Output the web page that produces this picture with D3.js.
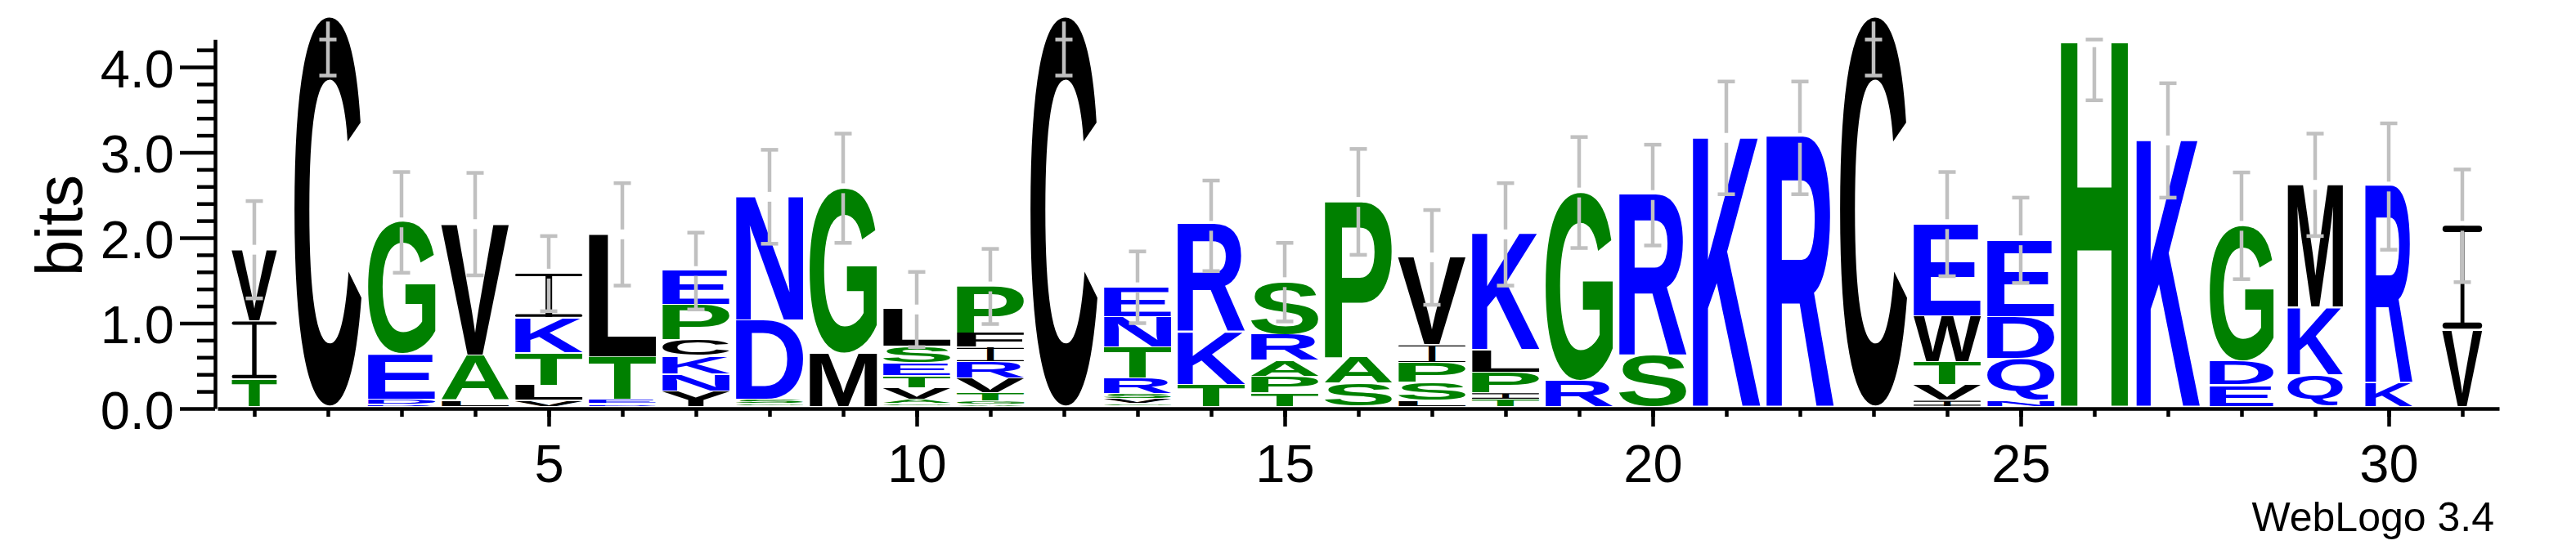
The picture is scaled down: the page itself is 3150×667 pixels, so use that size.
<!DOCTYPE html>
<html><head><meta charset="utf-8">
<script src="https://cdn.jsdelivr.net/npm/d3@7"></script>
<style>body{margin:0;background:#fff;}</style>
</head><body>
<svg id="logo" width="3150" height="667" xmlns="http://www.w3.org/2000/svg"></svg>
<script>
// ---------------- data ----------------
const positions = [1,2,3,4,5,6,7,8,9,10,11,12,13,14,15,16,17,18,19,20,21,22,23,24,25,26,27,28,29,30,31];
// letters of each stack, bottom to top
const stackLetters = ["TIV","C","RDEG","LAV","VLTKI","DETL","YNKCPE","GSDN","MG","GAVTESL","AGTVRIFP","C",
  "GVSRTNE","TKR","TPARS","SAP","LSPIV","TIPLK","RG","SR","K","R","C","IVTWE","NQDE","H","K","EDG","QKM","KR","VI"];
// height (bits) of each letter, same order
const stackBits = [
  [0.34,0.68,0.84],[4.59],[0.04,0.06,0.53,1.55],[0.09,0.53,1.54],[0.09,0.18,0.38,0.41,0.52],
  [0.05,0.05,0.50,1.44],[0.20,0.20,0.21,0.19,0.41,0.40],[0.05,0.05,0.93,1.45],[0.64,1.94],
  [0.05,0.05,0.14,0.14,0.15,0.19,0.44],[0.04,0.04,0.10,0.17,0.19,0.17,0.17,0.55],[4.59],
  [0.05,0.06,0.06,0.18,0.36,0.36,0.35],[0.27,0.62,1.25],[0.18,0.19,0.19,0.30,0.62],[0.29,0.31,1.82],
  [0.09,0.21,0.23,0.21,1.03],[0.10,0.08,0.24,0.26,1.36],[0.32,2.21],[0.62,1.88],[3.17],[3.17],[4.59],
  [0.09,0.18,0.27,0.54,1.08],[0.09,0.49,0.49,0.90],[4.29],[3.14],[0.27,0.28,1.59],[0.39,0.79,1.44],
  [0.30,2.30],[0.92,1.22]
];
// error bar half-length (bits)
const errorBits = [0.57,0.69,0.59,0.60,0.44,0.60,0.45,0.55,0.64,0.44,0.44,0.69,0.42,0.53,0.46,0.62,
  0.555,0.60,0.65,0.59,0.66,0.66,0.69,0.61,0.50,0.68,0.67,0.625,0.60,0.74,0.66];
// relative stack width (column occupancy)
const widthFrac = [0.67,1,1,1,1,1,1,1,1,1,1,1,1,1,1,1,1,1,1,1,1,1,1,1,1,1,0.94,0.95,0.82,0.70,0.59];
const yMax = 4.3219;
const yTicks = [0,1,2,3,4];
const yTickLabels = ["0.0","1.0","2.0","3.0","4.0"];
const yMinorTicks = [0.2,0.4,0.6,0.8,1.2,1.4,1.6,1.8,2.2,2.4,2.6,2.8,3.2,3.4,3.6,3.8,4.2];
const xTicks = [5,10,15,20,25,30];
const yLabel = "bits";
const footer = "WebLogo 3.4";
const colorGroups = {"#0000ff":"RKDENQ","#008000":"SGHTAP","#000000":"YVMCLFIW"};

// ---------------- drawing ----------------
const FONT = '"Liberation Sans", Arial, Helvetica, sans-serif';
const svg = d3.select('#logo');
const x = d3.scaleLinear().domain([0.5,31.5]).range([266,3056]);
const y = d3.scaleLinear().domain([0,yMax]).range([500,500-yMax*104.5]);
const color = ch => { for (const [c,s] of Object.entries(colorGroups)) if (s.includes(ch)) return c; return '#000'; };

const cv = document.createElement('canvas'); cv.width = 400; cv.height = 400;
const ctx = cv.getContext('2d');
const metrics = {};
function measure(ch){
  if (metrics[ch]) return metrics[ch];
  ctx.clearRect(0,0,400,400);
  ctx.fillStyle = '#000';
  ctx.font = `bold 200px ${FONT}`;
  ctx.fillText(ch, 100, 300);
  const d = ctx.getImageData(0,0,400,400).data;
  let x0=400,x1=-1,y0=400,y1=-1;
  for (let j=0;j<400;j++) for (let i=0;i<400;i++){
    if (d[(j*400+i)*4+3] > 127){ if(i<x0)x0=i; if(i>x1)x1=i; if(j<y0)y0=j; if(j>y1)y1=j; }
  }
  return metrics[ch] = {l:x0-100, t:y0-300, w:x1-x0+1, h:y1-y0+1};
}

const colW = (x(2)-x(1))*0.911;
const glyphs = [];
positions.forEach((p,i)=>{
  let cum = 0;
  stackLetters[i].split('').forEach((ch,k)=>{
    const b = stackBits[i][k];
    glyphs.push({p, ch, b0:cum, b1:cum+b, w:colW*widthFrac[i], first:k===0});
    cum += b;
  });
});

const gG = svg.append('g').attr('class','glyphs');
gG.selectAll('g.glyph').data(glyphs).join('g').attr('class','glyph').each(function(d){
  const top = y(d.b1);
  const bottom = y(d.b0) - (d.first ? 3.5 : 1.5);
  const bh = bottom - top;
  if (bh < 0.6) return;
  const bx = x(d.p) - d.w/2;
  const g = d3.select(this);
  const fill = color(d.ch);
  const place = (ch, X, Y, W, H) => {
    const m = measure(ch);
    g.append('text').text(ch)
      .attr('font-family', FONT).attr('font-weight','bold').attr('font-size',200)
      .attr('fill', fill)
      .attr('transform', `translate(${X},${Y}) scale(${W/m.w},${H/m.h}) translate(${-m.l},${-m.t})`);
  };
  if (d.ch === 'I') {
    const sw = Math.max(2, d.w*0.1);
    const th = Math.max(1.2, bh*0.06);
    place('I', x(d.p)-sw/2, top, sw, bh);
    [top, bottom-th].forEach(yy => g.append('rect').attr('x',bx).attr('y',yy)
      .attr('width',d.w).attr('height',th).attr('rx',th/2).attr('fill',fill));
  } else {
    place(d.ch, bx, top, d.w, bh);
  }
});

// error bars
const eG = svg.append('g').attr('class','errorbars').attr('stroke','#c0c0c0').attr('stroke-width',4.5).attr('fill','none');
positions.forEach((p,i)=>{
  const h = d3.sum(stackBits[i]);
  const e = errorBits[i];
  const yt = y(h), yu = y(Math.min(h+e, yMax)), yl = y(h-e);
  const cx = x(p), gap = 6;
  eG.append('line').attr('x1',cx).attr('x2',cx).attr('y1',yt+gap).attr('y2',yl);
  if (yu < yt-gap) eG.append('line').attr('x1',cx).attr('x2',cx).attr('y1',yt-gap).attr('y2',yu);
  [yu,yl].forEach(yy => eG.append('line').attr('x1',cx-10.5).attr('x2',cx+10.5).attr('y1',yy).attr('y2',yy));
});

// axes
function styleAxis(g){
  g.selectAll('.domain').attr('stroke','#000').attr('stroke-width',4.5);
  g.selectAll('.tick line').attr('stroke','#000').attr('stroke-width',4.5);
  g.selectAll('text').attr('font-family',FONT).attr('font-size',65).attr('fill','#000');
}
const yMinor = svg.append('g').attr('transform','translate(263,0)')
  .call(d3.axisLeft(y).tickValues(yMinorTicks).tickFormat('').tickSize(22).tickSizeOuter(0));
yMinor.select('.domain').remove(); styleAxis(yMinor);
const yAx = svg.append('g').attr('transform','translate(263,0)')
  .call(d3.axisLeft(y).tickValues(yTicks).tickFormat((d,i)=>yTickLabels[i]).tickSize(43).tickPadding(7).tickSizeOuter(0));
styleAxis(yAx); yAx.selectAll('text').attr('dy','0.37em');

const xMinor = svg.append('g').attr('transform','translate(0,500)')
  .call(d3.axisBottom(x).tickValues(positions).tickFormat('').tickSize(10).tickSizeOuter(0));
styleAxis(xMinor);
const xAx = svg.append('g').attr('transform','translate(0,500)')
  .call(d3.axisBottom(x).tickValues(xTicks).tickFormat(d=>String(d)).tickSize(22).tickSizeOuter(0));
xAx.select('.domain').remove(); styleAxis(xAx);
xAx.selectAll('text').attr('y',90).attr('dy','0');

svg.append('text').text(yLabel).attr('font-family',FONT).attr('font-size',80).attr('text-anchor','middle')
  .attr('transform','translate(100,276) rotate(-90)');
svg.append('text').text(footer).attr('font-family',FONT).attr('font-size',50).attr('text-anchor','end')
  .attr('x',3050).attr('y',650);
</script>
</body></html>
